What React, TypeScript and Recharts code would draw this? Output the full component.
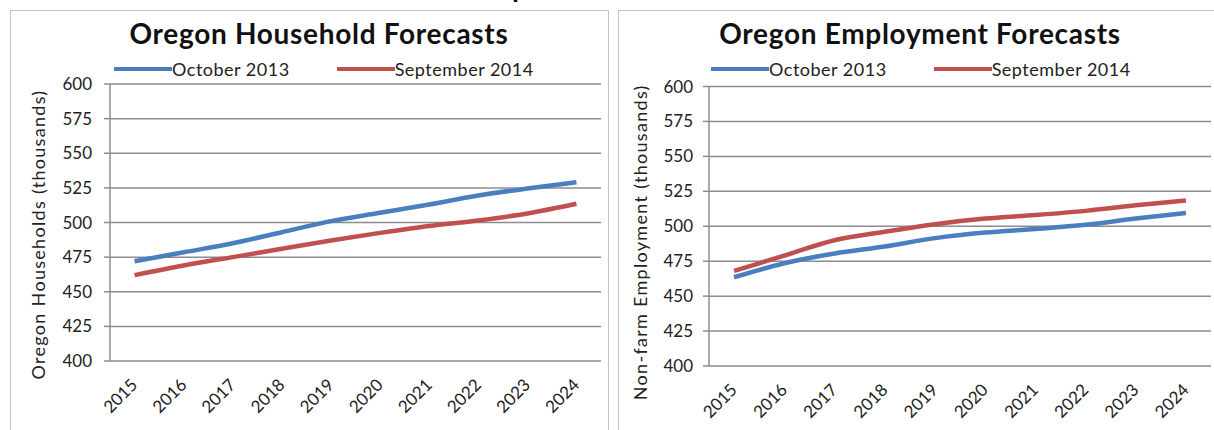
import { LineChart, Line, XAxis, YAxis, CartesianGrid, Legend } from "recharts";

const years = ["2015", "2016", "2017", "2018", "2019", "2020", "2021", "2022", "2023", "2024"];
const yTicks = [400, 425, 450, 475, 500, 525, 550, 575, 600];
const boundaryTicks = [0, 1, 2, 3, 4, 5, 6, 7, 8, 9, 10];
const centerTicks = [0.5, 1.5, 2.5, 3.5, 4.5, 5.5, 6.5, 7.5, 8.5, 9.5];

// thousands
const householdOct2013 = [472, 478.5, 485, 493, 501, 507, 513, 519.5, 524.5, 529];
const householdSep2014 = [462, 469, 475, 481, 487, 492.5, 497.5, 501.5, 506.5, 513.5];
const employmentOct2013 = [463.5, 473.5, 480.5, 485.5, 491.5, 495.5, 498, 501, 505.5, 509.5];
const employmentSep2014 = [468, 479, 490, 496, 501.5, 505.5, 508, 511, 515, 518.5];

const BLUE = "#4a7ebf";
const RED = "#c0504d";
const GRID = "#8c8c8c";
const TEXT = "#222";
const FONT = "Lato, 'Open Sans', sans-serif";

const toRows = (oct: number[], sep: number[]) =>
  years.map((year, i) => ({ x: i + 0.5, year, oct: oct[i], sep: sep[i] }));

function YearTick({ x, y, payload }: any) {
  const label = years[Math.floor(payload.value)];
  return (
    <g transform={`translate(${x + 4},${y + 25})`}>
      <text textAnchor="end" transform="rotate(-45)" fill={TEXT} fontSize={17} fontFamily={FONT}>
        {label}
      </text>
    </g>
  );
}

function LegendRow({ payload }: any) {
  return (
    <div
      style={{
        display: "flex",
        alignItems: "center",
        fontFamily: FONT,
        fontSize: 18,
        letterSpacing: 0.5,
        color: TEXT,
        whiteSpace: "nowrap",
      }}
    >
      {(payload || []).map((p: any, i: number) => (
        <div key={p.value} style={{ display: "flex", alignItems: "center", marginRight: i === 0 ? 47 : 0 }}>
          <span style={{ display: "inline-block", width: 58, height: 4, background: p.color }} />
          <span>{p.value}</span>
        </div>
      ))}
    </div>
  );
}

interface PanelProps {
  left: number;
  width: number;
  title: string;
  titleCenter: number;
  yTitle: string;
  yTitleX: number;
  yTitleShift: number;
  oct: number[];
  sep: number[];
  plotLeft: number;
  plotTop: number;
  plotRight: number;
  xAxisHeight: number;
  legendLeft: number;
  tickGap: number;
}

function Panel(p: PanelProps) {
  const rows = toRows(p.oct, p.sep);
  return (
    <>
      <div
        style={{
          position: "absolute",
          left: p.left,
          top: 10,
          width: p.width,
          height: 440,
          border: "1px solid #c4c4c4",
          boxSizing: "border-box",
        }}
      />
      <div
        style={{
          position: "absolute",
          left: p.titleCenter - 300,
          top: 19,
          width: 600,
          textAlign: "center",
          fontFamily: FONT,
          fontWeight: 700,
          fontSize: 28,
          letterSpacing: 0.7,
          lineHeight: "28px",
          color: "#111",
        }}
      >
        {p.title}
      </div>
      <div style={{ position: "absolute", left: p.left, top: 10 }}>
        <LineChart
          width={p.width}
          height={420}
          data={rows}
          margin={{ top: p.plotTop, right: p.plotRight, bottom: 0, left: 0 }}
        >
          <CartesianGrid xAxisId="lab" vertical={false} stroke={GRID} strokeWidth={1.5} />
          <XAxis
            xAxisId="m"
            type="number"
            domain={[0, 10]}
            ticks={boundaryTicks}
            tick={false}
            tickSize={6}
            tickLine={{ stroke: GRID, strokeWidth: 1.5 }}
            axisLine={{ stroke: GRID, strokeWidth: 1.5 }}
            height={0}
          />
          <XAxis
            xAxisId="lab"
            dataKey="x"
            type="number"
            domain={[0, 10]}
            ticks={centerTicks}
            tick={<YearTick />}
            tickSize={0}
            tickMargin={0}
            axisLine={false}
            tickLine={false}
            height={p.xAxisHeight}
            interval={0}
          />
          <YAxis
            domain={[400, 600]}
            ticks={yTicks}
            width={p.plotLeft}
            tickSize={6}
            tickMargin={p.tickGap}
            tickLine={{ stroke: GRID, strokeWidth: 1.5 }}
            axisLine={{ stroke: GRID, strokeWidth: 1.5 }}
            tick={{ fill: TEXT, fontSize: 17, fontFamily: FONT }}
            interval={0}
            label={{
              value: p.yTitle,
              content: ({ viewBox }: any) => {
                const cx = viewBox.x + p.yTitleX;
                const cy = viewBox.y + viewBox.height / 2 + p.yTitleShift;
                return (
                  <text
                    x={cx}
                    y={cy}
                    transform={`rotate(-90, ${cx}, ${cy})`}
                    textAnchor="middle"
                    dominantBaseline="central"
                    fill={TEXT}
                    fontSize={18}
                    letterSpacing={1.3}
                    fontFamily={FONT}
                  >
                    {p.yTitle}
                  </text>
                );
              },
            }}
          />
          <Legend
            layout="horizontal"
            verticalAlign="middle"
            align="center"
            content={<LegendRow />}
            wrapperStyle={{ left: p.legendLeft, top: 48, width: 540 }}
          />
          <Line
            xAxisId="lab"
            type="monotone"
            dataKey="oct"
            name="October 2013"
            stroke={BLUE}
            strokeWidth={4.5}
            dot={false}
            isAnimationActive={false}
          />
          <Line
            xAxisId="lab"
            type="monotone"
            dataKey="sep"
            name="September 2014"
            stroke={RED}
            strokeWidth={4.5}
            dot={false}
            isAnimationActive={false}
          />
        </LineChart>
      </div>
    </>
  );
}

export default function App() {
  return (
    <div
      style={{
        position: "fixed",
        left: 0,
        top: 0,
        width: 1214,
        height: 430,
        background: "#fff",
        overflow: "hidden",
      }}
    >
      {/* descender of the page heading that sits just above this crop */}
      <div
        style={{
          position: "absolute",
          left: 512,
          top: -28,
          fontFamily: FONT,
          fontWeight: 700,
          fontSize: 28,
          lineHeight: "28px",
          color: "#111",
        }}
      >
        p
      </div>
      <Panel
        left={10}
        width={599}
        title="Oregon Household Forecasts"
        titleCenter={319}
        yTitle="Oregon Households (thousands)"
        yTitleX={28}
        yTitleShift={12}
        oct={householdOct2013}
        sep={householdSep2014}
        plotLeft={100}
        plotTop={74}
        plotRight={8}
        xAxisHeight={69}
        legendLeft={104}
        tickGap={12}
      />
      <Panel
        left={618}
        width={600}
        title="Oregon Employment Forecasts"
        titleCenter={920}
        yTitle="Non-farm Employment (thousands)"
        yTitleX={22}
        yTitleShift={16}
        oct={employmentOct2013}
        sep={employmentSep2014}
        plotLeft={91}
        plotTop={76.5}
        plotRight={7}
        xAxisHeight={64}
        legendLeft={93}
        tickGap={10}
      />
    </div>
  );
}
